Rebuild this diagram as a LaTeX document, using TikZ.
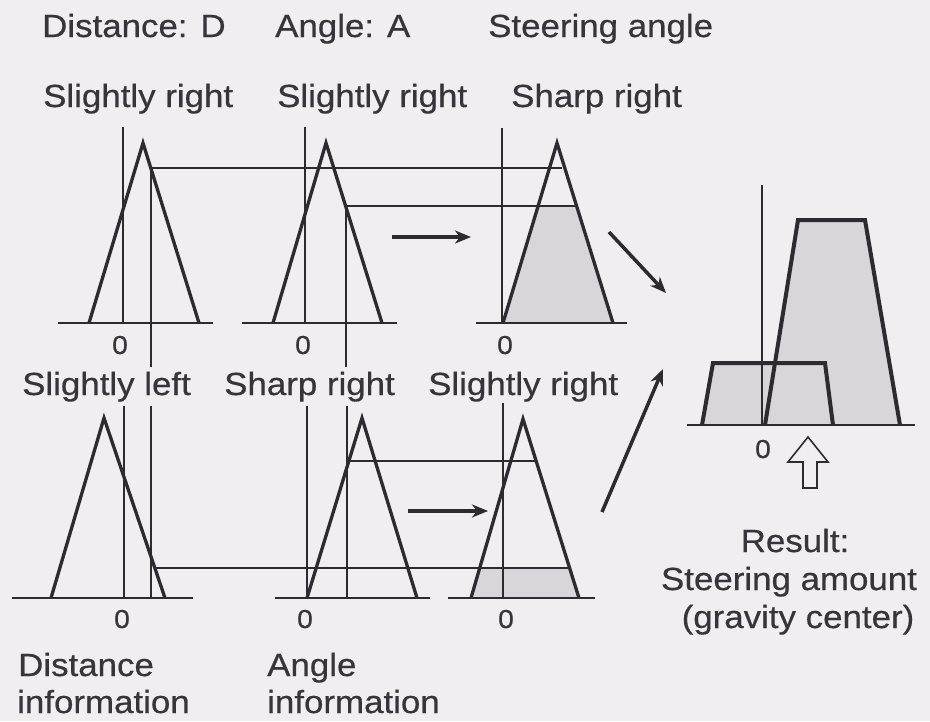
\documentclass[tikz,border=0pt]{standalone}
\usepackage{fontspec}
\setmainfont{Liberation Sans}[FakeStretch=1.09,FakeBold=0.5]
\usetikzlibrary{arrows.meta}
\definecolor{bg}{RGB}{240,238,241}
\definecolor{ink}{RGB}{45,42,48}
\definecolor{txt}{RGB}{55,52,58}
\definecolor{areagrey}{RGB}{216,214,218}
\tikzset{
  axisline/.style={ink, line width=1.3pt},
  memb/.style={ink, line width=3.3pt, line join=miter},
  level/.style={ink, line width=1.2pt},
  clipline/.style={ink, line width=2.8pt},
  resshape/.style={ink, line width=4pt, line join=miter},
  flow/.style={ink, line width=3.5pt, -{Stealth[length=16pt,width=13pt,inset=5pt]}},
  lab/.style={text=txt, font=\fontsize{32}{38}\selectfont, inner sep=0pt},
  zero/.style={text=txt, font=\fontsize{26}{30}\selectfont, inner sep=0pt, anchor=base},
}
\begin{document}
\begin{tikzpicture}[x=1pt,y=-1pt]
\useasboundingbox[fill=bg] (0,0) rectangle (930,721);

% ---------- labels ----------
\node[lab, anchor=base west] (h1) at (42,37) {Distance: D};
\node[lab, anchor=base west] (h2) at (275,37) {Angle: A};
\node[lab, anchor=base west] (h3) at (488,37) {Steering angle};
\node[lab, anchor=base west] (t1) at (43,107) {Slightly right};
\node[lab, anchor=base west] (t2) at (277,107) {Slightly right};
\node[lab, anchor=base west] (t3) at (511,107) {Sharp right};
\node[lab, anchor=base west] (m1) at (22,395) {Slightly left};
\node[lab, anchor=base west] (m2) at (224,395) {Sharp right};
\node[lab, anchor=base west] (m3) at (428,395) {Slightly right};
\node[lab, anchor=base west] (b1) at (18,676) {Distance};
\node[lab, anchor=base west] (b2) at (17,713) {information};
\node[lab, anchor=base west] (b3) at (267,676) {Angle};
\node[lab, anchor=base west] (b4) at (267,713) {information};
\node[lab, anchor=base] (r1) at (795,552) {Result:};
\node[lab, anchor=base] (r2) at (789,590) {Steering amount};
\node[lab, anchor=base] (r3) at (798,628) {(gravity center)};

\node[zero] (z1) at (120,354) {0};
\node[zero] (z2) at (303,354) {0};
\node[zero] (z3) at (505,354) {0};
\node[zero] (z4) at (122,628) {0};
\node[zero] (z5) at (305,628) {0};
\node[zero] (z6) at (506,628) {0};
\node[zero] (z7) at (763,458) {0};

% ---------- shaded areas ----------
\fill[areagrey] (503,323) -- (538.1,206) -- (576.6,206) -- (613,323) -- cycle;
\fill[areagrey] (471,598) -- (479.7,568) -- (569.6,568) -- (579,598) -- cycle;
\fill[areagrey] (702,425) -- (713,363) -- (825,363) -- (833,425) -- cycle;
\fill[areagrey] (765,425) -- (798,220) -- (865,220) -- (900,425) -- cycle;

% ---------- top row ----------
% distance: slightly right
\draw[axisline] (58,323) -- (213,323);
\draw[axisline] (123,127) -- (123,323);
\draw[memb] (89,323) -- (143,143) -- (199,323);
% angle: slightly right
\draw[axisline] (242,323) -- (397,323);
\draw[axisline] (305,127) -- (305,323);
\draw[memb] (273,323) -- (326,143) -- (382,323);
% steering: sharp right
\draw[axisline] (476,323) -- (627,323);
\draw[axisline] (502,128) -- (502,323);
\draw[memb] (503,323) -- (557,143) -- (613,323);
% input value lines and levels
\draw[level] (151,168) -- (151,367);
\draw[level] (346,206) -- (346,367);
\draw[level] (151,168) -- (562,168);
\draw[level] (346,206) -- (538,206);
\draw[clipline] (538.1,206) -- (576.6,206);

% ---------- bottom row ----------
% distance: slightly left
\draw[axisline] (12,598) -- (193,598);
\draw[axisline] (124,406) -- (124,598);
\draw[memb] (51,598) -- (104,418) -- (165,598);
% angle: sharp right
\draw[axisline] (275,598) -- (430,598);
\draw[axisline] (307,406) -- (307,598);
\draw[memb] (307,598) -- (362,418) -- (417,598);
% steering: slightly right
\draw[axisline] (448,598) -- (595,598);
\draw[axisline] (503,403) -- (503,598);
\draw[memb] (471,598) -- (523,419) -- (579,598);
% input value lines and levels
\draw[level] (151,406) -- (151,598);
\draw[level] (347,406) -- (347,598);
\draw[level] (350,461) -- (536,461);
\draw[level] (155,568) -- (480,568);
\draw[clipline] (479.7,568) -- (569.6,568);

% ---------- result ----------
\draw[axisline] (687,425) -- (915,425);
\draw[axisline] (762,185) -- (762,425);
\draw[resshape] (702,425) -- (713,363) -- (825,363) -- (833,425);
\draw[resshape] (765,425) -- (798,220) -- (865,220) -- (900,425);
\draw[ink, line width=1.6pt, fill=bg, line join=miter]
  (808,437) -- (828,462) -- (817,462) -- (817,488) -- (803,488) -- (803,462) -- (788,462) -- cycle;

% ---------- arrows ----------
\coordinate (a1s) at (392,237); \coordinate (a1e) at (471,237);
\coordinate (a2s) at (408,511); \coordinate (a2e) at (488,511);
\coordinate (a3s) at (609,232); \coordinate (a3e) at (666,293);
\coordinate (a4s) at (602,512); \coordinate (a4e) at (663,369);
\draw[flow] (a1s) -- (a1e);
\draw[flow] (a2s) -- (a2e);
\draw[flow] (a3s) -- (a3e);
\draw[flow] (a4s) -- (a4e);
\end{tikzpicture}
\end{document}
